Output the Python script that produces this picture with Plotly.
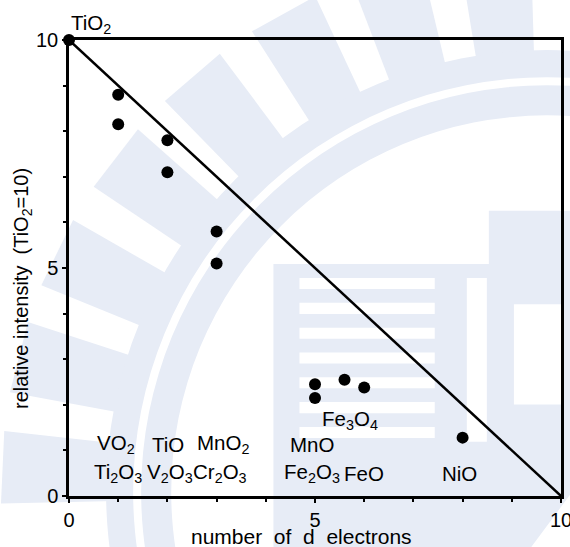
import math
import plotly.graph_objects as go

# ---------------- data ----------------
d_electrons = [0, 1, 1, 2, 2, 3, 3, 5, 5, 5.6, 6, 8]
rel_intensity = [10, 8.8, 8.15, 7.8, 7.1, 5.8, 5.1, 2.45, 2.15, 2.55, 2.38, 1.28]
line_x = [0, 10]
line_y = [10, 0]

label_text = ["TiO<sub>2</sub>", "VO<sub>2</sub>", "Ti<sub>2</sub>O<sub>3</sub>", "TiO", "V<sub>2</sub>O<sub>3</sub>",
              "MnO<sub>2</sub>", "Cr<sub>2</sub>O<sub>3</sub>", "MnO", "Fe<sub>2</sub>O<sub>3</sub>",
              "Fe<sub>3</sub>O<sub>4</sub>", "FeO", "NiO"]
label_x = [0.45, 0.95, 0.99, 2.01, 2.05, 3.14, 3.07, 4.93, 4.94, 5.72, 5.99, 7.94]
label_y = [10.35, 1.13, 0.5, 1.13, 0.5, 1.13, 0.5, 1.13, 0.5, 1.67, 0.5, 0.5]

Y_MIN, Y_MAX = 0, 10
tick_vals = [0, 5, 10]
tick_text = ["0", "5", "10"]
x_title = "number  of  d  electrons"
y_title = "relative intensity  (TiO<sub>2</sub>=10)"

FONT = "Liberation Sans"
W, H = 582, 551
L, R, T, B = 69, 10, 40, 55


# reference-picture pixels -> paper coordinates (plot area spans x 68..559, y 40..494)
def px(x):
    return (x - 68) / 491


def py(y):
    return (494 - y) / 454


fig = go.Figure()
fig.add_trace(go.Scatter(x=line_x, y=line_y, mode="lines",
                         line=dict(color="black", width=2.5), showlegend=False,
                         hoverinfo="skip", cliponaxis=False))
fig.add_trace(go.Scatter(x=d_electrons, y=rel_intensity, mode="markers",
                         marker=dict(color="black", size=12), showlegend=False,
                         cliponaxis=False))

for t, x, y in zip(label_text, label_x, label_y):
    fig.add_annotation(x=x, y=(y - Y_MIN) / (Y_MAX - Y_MIN), text=t, showarrow=False,
                       xref="x", yref="y domain", xanchor="center", yanchor="middle",
                       font=dict(family=FONT, size=20.5, color="black"))

fig.add_annotation(x=px(300), y=py(534), xref="paper", yref="paper", text=x_title,
                   showarrow=False, xanchor="center", yanchor="middle",
                   font=dict(family=FONT, size=21, color="black"))
fig.add_annotation(x=px(21), y=py(287), xref="paper", yref="paper", text=y_title,
                   showarrow=False, xanchor="center", yanchor="middle", textangle=-90,
                   font=dict(family=FONT, size=20, color="black"))

# ---------------- background watermark (decoration) ----------------
WM = "#E7ECF6"


def poly(points, color):
    path = "M " + " L ".join(f"{px(a):.5f},{py(b):.5f}" for a, b in points) + " Z"
    fig.add_shape(type="path", path=path, xref="paper", yref="paper",
                  fillcolor=color, line_width=0, layer="below")


def circle(cx, cy, r, color):
    fig.add_shape(type="circle", xref="paper", yref="paper",
                  x0=px(cx - r), x1=px(cx + r), y0=py(cy + r), y1=py(cy - r),
                  fillcolor=color, line_width=0, layer="below")


CX, CY = 545, 490
for ang in [-95.5 - 11.7 * k for k in range(8)]:
    a1, a2 = math.radians(ang - 3.8), math.radians(ang + 3.8)
    r1, r2 = 430, 545
    poly([(CX + r1 * math.cos(a1), CY + r1 * math.sin(a1)),
          (CX + r2 * math.cos(a1), CY + r2 * math.sin(a1)),
          (CX + r2 * math.cos(a2), CY + r2 * math.sin(a2)),
          (CX + r1 * math.cos(a2), CY + r1 * math.sin(a2))], WM)
circle(CX, CY, 440, WM)
circle(CX, CY, 413, "white")
circle(CX, CY, 405, WM)
circle(CX, CY, 375, "white")
poly([(272, 263), (487, 263), (487, 210), (585, 210), (585, 470), (518, 560), (272, 560)], WM)
for k in range(7):
    y0 = 277 + 24.7 * k
    poly([(298, y0), (433, y0), (433, y0 + 11), (298, y0 + 11)], "white")
poly([(465, 277), (485, 277), (485, 440), (465, 440)], "white")
poly([(512, 303), (562, 303), (562, 403), (512, 403)], "white")

# ---------------- axes ----------------
axis_common = dict(tickvals=tick_vals, ticktext=tick_text,
                   showgrid=False, zeroline=False, showline=True, linecolor="black",
                   linewidth=2.5, mirror=True, ticks="outside", ticklen=4, tickwidth=1.5,
                   tickcolor="black",
                   minor=dict(dtick=1, ticks="outside", ticklen=3, tickcolor="black"),
                   tickfont=dict(family=FONT, size=20, color="black"))
fig.update_xaxes(range=[0, 10], **axis_common)
fig.update_yaxes(range=[Y_MIN, Y_MAX], **axis_common)

fig.update_layout(width=W, height=H, margin=dict(l=L, r=R, t=T, b=B),
                  paper_bgcolor="white", plot_bgcolor="rgba(0,0,0,0)")

fig.write_html(
    "out.html",
    config={"displayModeBar": False, "responsive": False},
    post_script=("document.documentElement.style.margin='0px';"
                 "document.body.style.margin='0px';"
                 "document.documentElement.style.overflow='hidden';"
                 "document.body.style.overflow='hidden';"),
)
